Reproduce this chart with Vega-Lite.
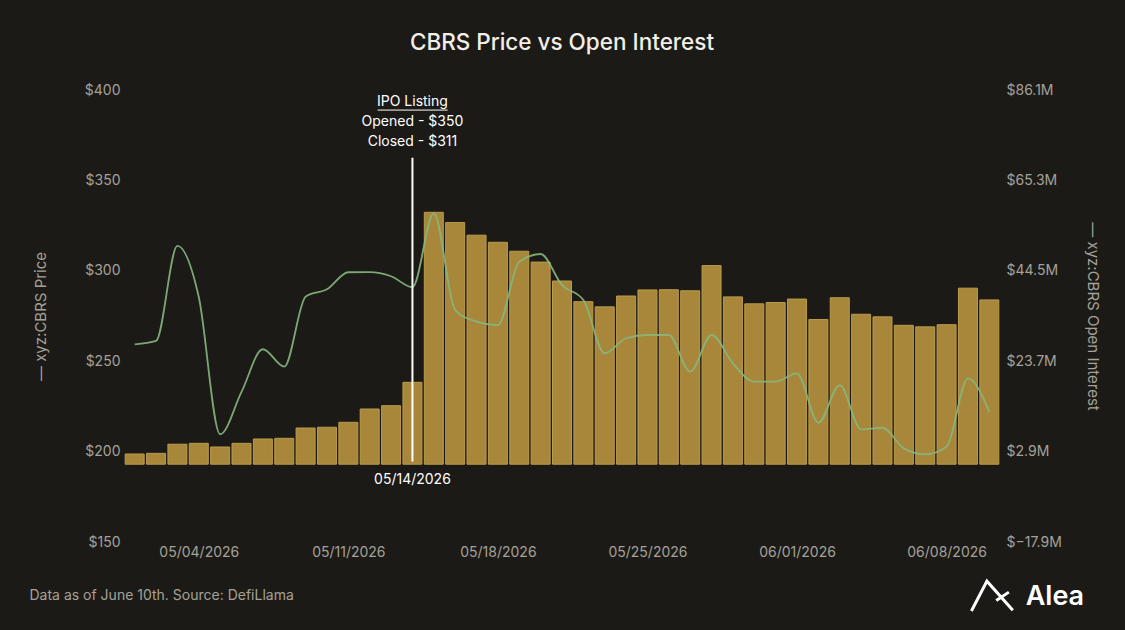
{
  "$schema": "https://vega.github.io/schema/vega-lite/v6.json",
  "width": 876,
  "height": 452,
  "autosize": "none",
  "padding": {"left": 124, "top": 90, "right": 125, "bottom": 88},
  "background": "#1c1a16",
  "title": {
    "text": "CBRS Price vs Open Interest",
    "frame": "group",
    "offset": 29,
    "fontSize": 22.5,
    "fontWeight": 500,
    "color": "#f2efe8"
  },
  "config": {
    "view": {"stroke": null},
    "font": "Inter",
    "axis": {
      "domain": false,
      "ticks": false,
      "grid": false,
      "labelColor": "#a4a19a",
      "labelFontSize": 14,
      "titleColor": "#a4a19a",
      "titleFontSize": 15,
      "titleFontWeight": "normal"
    }
  },
  "data": {
    "values": [
      {"date": "2026-05-01", "price": 259.3, "oi": 2.35},
      {"date": "2026-05-02", "price": 261.2, "oi": 2.5},
      {"date": "2026-05-03", "price": 313.8, "oi": 4.6},
      {"date": "2026-05-04", "price": 285.5, "oi": 4.8},
      {"date": "2026-05-05", "price": 209.6, "oi": 3.96},
      {"date": "2026-05-06", "price": 233.0, "oi": 4.8},
      {"date": "2026-05-07", "price": 256.6, "oi": 5.8},
      {"date": "2026-05-08", "price": 247.0, "oi": 5.96},
      {"date": "2026-05-09", "price": 285.7, "oi": 8.33},
      {"date": "2026-05-10", "price": 289.8, "oi": 8.5},
      {"date": "2026-05-11", "price": 299.2, "oi": 9.64},
      {"date": "2026-05-12", "price": 299.3, "oi": 12.7},
      {"date": "2026-05-13", "price": 297.0, "oi": 13.46},
      {"date": "2026-05-14", "price": 290.9, "oi": 18.84},
      {"date": "2026-05-15", "price": 331.8, "oi": 57.96},
      {"date": "2026-05-16", "price": 278.3, "oi": 55.6},
      {"date": "2026-05-17", "price": 271.9, "oi": 52.7},
      {"date": "2026-05-18", "price": 270.0, "oi": 51.06},
      {"date": "2026-05-19", "price": 305.0, "oi": 49.0},
      {"date": "2026-05-20", "price": 309.3, "oi": 46.5},
      {"date": "2026-05-21", "price": 292.1, "oi": 42.15},
      {"date": "2026-05-22", "price": 283.8, "oi": 37.4},
      {"date": "2026-05-23", "price": 254.4, "oi": 36.2},
      {"date": "2026-05-24", "price": 262.7, "oi": 38.7},
      {"date": "2026-05-25", "price": 264.5, "oi": 40.1},
      {"date": "2026-05-26", "price": 264.5, "oi": 40.15},
      {"date": "2026-05-27", "price": 244.2, "oi": 39.9},
      {"date": "2026-05-28", "price": 264.5, "oi": 45.7},
      {"date": "2026-05-29", "price": 248.8, "oi": 38.5},
      {"date": "2026-05-30", "price": 238.7, "oi": 36.9},
      {"date": "2026-05-31", "price": 238.7, "oi": 37.2},
      {"date": "2026-06-01", "price": 243.3, "oi": 38.0},
      {"date": "2026-06-02", "price": 216.0, "oi": 33.3},
      {"date": "2026-06-03", "price": 236.8, "oi": 38.3},
      {"date": "2026-06-04", "price": 212.3, "oi": 34.5},
      {"date": "2026-06-05", "price": 213.2, "oi": 33.9},
      {"date": "2026-06-06", "price": 201.8, "oi": 31.96},
      {"date": "2026-06-07", "price": 198.5, "oi": 31.6},
      {"date": "2026-06-08", "price": 202.7, "oi": 32.1},
      {"date": "2026-06-09", "price": 240.5, "oi": 40.5},
      {"date": "2026-06-10", "price": 222.0, "oi": 37.8}
    ]
  },
  "encoding": {
    "x": {
      "field": "date",
      "type": "temporal",
      "scale": {
        "type": "utc",
        "padding": 0,
        "domain": [
          {"year": 2026, "month": 4, "date": 30, "hours": 12, "utc": true},
          {"year": 2026, "month": 6, "date": 10, "hours": 12, "utc": true}
        ]
      },
      "axis": {
        "values": [
          {"year": 2026, "month": 5, "date": 4, "utc": true},
          {"year": 2026, "month": 5, "date": 11, "utc": true},
          {"year": 2026, "month": 5, "date": 18, "utc": true},
          {"year": 2026, "month": 5, "date": 25, "utc": true},
          {"year": 2026, "month": 6, "date": 1, "utc": true},
          {"year": 2026, "month": 6, "date": 8, "utc": true}
        ],
        "format": "%m/%d/%Y",
        "labelPadding": 3,
        "title": "Data as of June 10th. Source: DefiLlama",
        "titleX": -95,
        "titleY": 53,
        "titleFontSize": 14,
        "titleAlign": "left",
        "titleBaseline": "middle",
        "titleAnchor": null
      }
    }
  },
  "layer": [
    {
      "mark": {"type": "bar", "width": 19, "color": "#a8873a", "stroke": "#bb9c4c", "strokeWidth": 1},
      "encoding": {
        "y": {
          "field": "oi",
          "type": "quantitative",
          "scale": {"domain": [-17.9, 86.1], "nice": false, "zero": false},
          "axis": {
            "orient": "right",
            "values": [-17.9, 2.9, 23.7, 44.5, 65.3, 86.1],
            "labelExpr": "'$' + format(datum.value, '.1f') + 'M'",
            "labelPadding": 6,
            "title": "— xyz:CBRS Open Interest",
            "titlePadding": 23
          }
        }
      }
    },
    {
      "layer": [
        {
          "mark": {"type": "line", "interpolate": "monotone", "color": "#86b77f", "strokeWidth": 1.8, "opacity": 0.9},
          "encoding": {
            "y": {
              "field": "price",
              "type": "quantitative",
              "scale": {"domain": [150, 400], "nice": false, "zero": false},
              "axis": {
                "orient": "left",
                "values": [150, 200, 250, 300, 350, 400],
                "format": "$.0f",
                "labelPadding": 4,
                "title": "— xyz:CBRS Price",
                "titlePadding": 36
              }
            }
          }
        },
        {
          "data": {"values": [{"date": "2026-05-14", "top": 362.5, "bottom": 194.5}]},
          "mark": {"type": "rule", "color": "#ffffff", "strokeWidth": 2},
          "encoding": {
            "y": {"field": "top", "type": "quantitative"},
            "y2": {"field": "bottom"}
          }
        },
        {
          "data": {"values": [{"date": "2026-05-12T08:50:00Z", "end": "2026-05-15T15:35:00Z", "price": 388.9}]},
          "mark": {"type": "rule", "color": "#ffffff", "strokeWidth": 1},
          "encoding": {
            "x2": {"field": "end"},
            "y": {"field": "price", "type": "quantitative"}
          }
        },
        {
          "data": {
            "values": [
              {"date": "2026-05-14", "price": 393.3, "label": "IPO Listing"},
              {"date": "2026-05-14", "price": 382.2, "label": "Opened - $350"},
              {"date": "2026-05-14", "price": 371.2, "label": "Closed - $311"},
              {"date": "2026-05-14", "price": 184.3, "label": "05/14/2026"}
            ]
          },
          "mark": {"type": "text", "color": "#ffffff", "fontSize": 14, "align": "center", "baseline": "middle"},
          "encoding": {
            "y": {"field": "price", "type": "quantitative"},
            "text": {"field": "label"}
          }
        },
        {
          "data": {"values": [{"date": "2026-06-11T16:50:00Z", "price": 119.6, "label": "Alea"}]},
          "mark": {"type": "text", "color": "#ffffff", "fontSize": 27, "fontWeight": 600, "align": "left", "baseline": "middle"},
          "encoding": {
            "y": {"field": "price", "type": "quantitative"},
            "text": {"field": "label"}
          }
        },
        {
          "data": {"values": [{"date": "2026-06-10T03:08:00Z", "price": 120.1}]},
          "mark": {
            "type": "point",
            "shape": "M-1,0.72 L-0.25,-0.72 L1,0.68 M0.81,-0.19 L0.2,0.22",
            "filled": false,
            "color": "#ffffff",
            "strokeWidth": 3,
            "opacity": 1,
            "size": 1714
          },
          "encoding": {
            "y": {"field": "price", "type": "quantitative"}
          }
        }
      ]
    }
  ],
  "resolve": {"scale": {"y": "independent"}}
}
